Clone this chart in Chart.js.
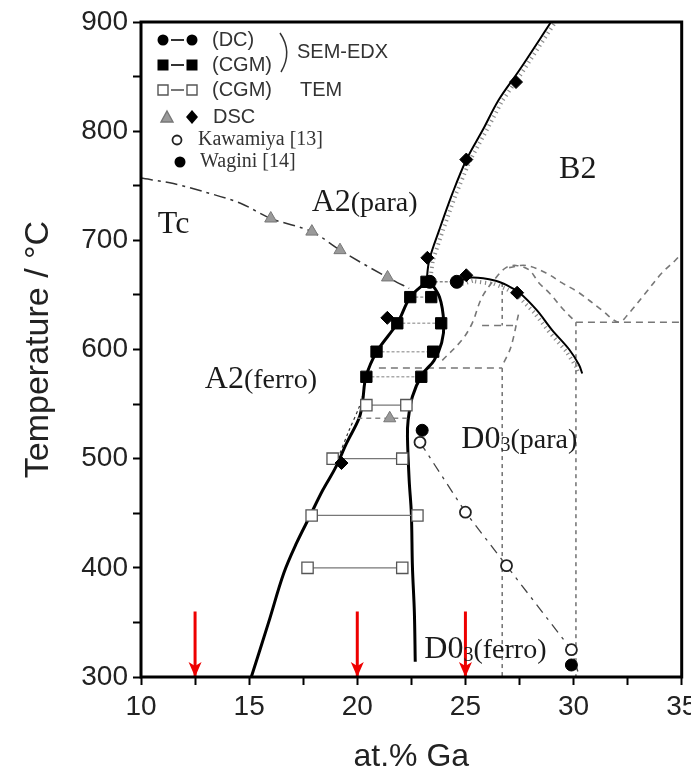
<!DOCTYPE html>
<html>
<head>
<meta charset="utf-8">
<script src="https://cdn.jsdelivr.net/npm/chart.js@4.4.1/dist/chart.umd.min.js"></script>
<style>
  html, body { margin: 0; padding: 0; background: #fff; }
  #chart { display: block; }
</style>
</head>
<body>
<canvas id="chart" width="691" height="784"></canvas>
<script>
// axis
const xMin = 10, xMax = 35;
const yMin = 300, yMax = 900;

// phase boundaries [at.% Ga, °C]
const tcCurve = [[10,757],[11.5,752],[13.0,744],[14.6,734],[16.0,720],[17.9,708],[19.2,691],[21.4,666],[22.4,656]];
const a2LeftBoundary = [[15.1,300],[15.9,350],[16.6,395],[17.2,423],[17.8,447],[18.4,471],[19.0,492],[19.5,514],[20.1,538],[20.25,553],[20.4,575],[20.9,598],[21.85,624],[22.45,648],[23.2,662]];
const d03Boundary = [[23.3,664],[23.8,648],[24.0,624],[23.9,606],[23.55,590],[23.0,577],[22.55,557],[22.35,535],[22.32,520],[22.4,480],[22.5,450],[22.55,401],[22.64,359],[22.68,314]];
const a2DashedBranch = [[19.1,500],[19.6,525],[20.1,548],[20.35,565]];
const b2Boundary = [[23.2,662],[23.33,682],[23.8,710],[24.4,743],[25.05,774],[25.8,801],[26.55,829],[27.5,856],[28.96,900]];
const b2Dome = [[24.6,662],[25.3,666],[26.4,663],[27.0,658],[27.5,652],[28.3,636],[29.0,618],[29.8,600],[30.25,586],[30.4,578]];
const kawamiyaLine = [[22.9,515],[25.0,451],[26.9,402],[29.9,325],[30.2,305]];

// metastable (gray dashed) lines
const metaArchA = [[23.93,590],[24.85,609],[25.31,624],[25.77,648],[26.42,666],[26.88,675],[27.34,677],[27.94,673],[28.4,661],[28.87,652],[29.56,636],[30.11,625]];
const metaArchB = [[27.02,675],[27.8,677],[28.73,670],[29.47,661],[30.25,652],[31.31,636],[32.09,625],[32.55,633],[33.34,652],[34.08,670],[34.72,682],[35,688]];
const metaCurveC = [[27.45,632],[27.1,602],[26.7,585]];
const metaH583 = [[21.0,583],[26.7,583]];
const metaH622 = [[25.77,622],[27.39,622]];
const metaH625 = [[30.11,625],[35,625]];
const metaV267a = [[26.7,661],[26.7,622]];
const metaV267b = [[26.7,583],[26.7,300]];
const metaV301 = [[30.11,625],[30.11,300]];

// measured points
const cgmTemps = [648, 624, 598, 575];
const cgmLeft = [22.45, 21.85, 20.89, 20.42];
const cgmRight = [23.42, 23.88, 23.51, 22.96];
const cgmExtraX = [23.2];
const cgmExtraT = [662];
const temTemps = [549, 500, 448, 400];
const temLeft = [20.42, 18.86, 17.89, 17.7];
const temRight = [22.27, 22.08, 22.78, 22.08];
const dcTemps = [662];
const dcLeft = [23.35];
const dcRight = [24.6];
const dscTriX = [16.0, 17.9, 19.2, 21.4, 21.5];
const dscTriT = [720, 708, 691, 666, 537];
const dscTieT = 537, dscTieLeft = 20.0, dscTieRight = 22.5;
const dscX = [19.27, 21.39, 23.24, 25.04, 27.39, 25.04, 27.34];
const dscT = [496, 629, 684, 668, 652, 774, 845];
const kawamiyaX = [22.9, 25.0, 26.9, 29.9];
const kawamiyaT = [515, 451, 402, 325];
const waginiX = [23.0, 29.9];
const waginiT = [526, 311];

// red arrows
const arrowX = [12.5, 20, 25];
const arrowTop = 360;
const arrowTip = 300;

const SANS = "'Liberation Sans', Arial, sans-serif";
const SERIF = "'Liberation Serif', 'Times New Roman', serif";

const pts = arr => arr.map(p => ({ x: p[0], y: p[1] }));
const zipPts = (xs, ys) => xs.map((x, i) => ({ x: x, y: ys[i] }));

function line(data, color, width, dash, extra) {
  return Object.assign({
    data: pts(data), showLine: true, pointRadius: 0, borderColor: color,
    borderWidth: width, borderDash: dash || [], tension: 0, fill: false
  }, extra || {});
}

function markers(data, style, radius, bg, border, bw) {
  return {
    data: data, showLine: false, pointStyle: style, pointRadius: radius,
    pointBackgroundColor: bg, pointBorderColor: border, pointBorderWidth: bw || 1
  };
}

const datasets = [];
// markers first, so they are drawn on top
datasets.push(markers(zipPts(dscX, dscT), 'rectRot', 6.5, '#000', '#000'));
datasets.push(markers(zipPts(kawamiyaX, kawamiyaT), 'circle', 5.5, '#fff', '#222', 1.8));
datasets.push(markers(zipPts(waginiX, waginiT), 'circle', 6, '#000', '#000'));
datasets.push(markers(zipPts(dcLeft, dcTemps).concat(zipPts(dcRight, dcTemps)), 'circle', 6.5, '#000', '#000'));
datasets.push(markers(zipPts(cgmLeft, cgmTemps).concat(zipPts(cgmRight, cgmTemps), zipPts(cgmExtraX, cgmExtraT)), 'rect', 8, '#000', '#000'));
datasets.push(markers(zipPts(temLeft, temTemps).concat(zipPts(temRight, temTemps)), 'rect', 8, '#fff', '#555', 1.3));
datasets.push(markers(zipPts(dscTriX, dscTriT), 'triangle', 7, '#9a9a9a', '#777', 1));

// tie lines
cgmTemps.forEach((t, i) => datasets.push(line([[cgmLeft[i], t], [cgmRight[i], t]], '#aaa', 1.6, [3, 2])));
temTemps.forEach((t, i) => datasets.push(line([[temLeft[i], t], [temRight[i], t]], '#777', 1.2)));
dcTemps.forEach((t, i) => datasets.push(line([[dcLeft[i], t], [dcRight[i], t]], '#888', 1.5, [3, 2])));
datasets.push(line([[dscTieLeft, dscTieT], [dscTieRight, dscTieT]], '#888', 1.5, [5, 4]));

// red arrows
arrowX.forEach(x => datasets.push(line([[x, arrowTop], [x, arrowTip]], '#ee0000', 3, [], { arrow: true })));

// boundaries
datasets.push(line(a2LeftBoundary, '#000', 3, [], { tension: 0.35 }));
datasets.push(line(d03Boundary, '#000', 3, [], { tension: 0.35 }));
datasets.push(line(b2Boundary, '#000', 2, [], { tension: 0.35, hatch: 1 }));
datasets.push(line(b2Dome, '#000', 2, [], { tension: 0.35, hatch: 1 }));
datasets.push(line(a2DashedBranch, '#333', 1.2, [3, 3], { tension: 0.3 }));
datasets.push(line(tcCurve, '#333', 1.5, [12, 5, 3, 5], { tension: 0.3 }));
datasets.push(line(kawamiyaLine, '#444', 1.3, [10, 6, 3, 6]));

// metastable lines
datasets.push(line(metaArchA, '#777', 1.6, [6, 5], { tension: 0.35 }));
datasets.push(line(metaArchB, '#777', 1.6, [6, 5], { tension: 0.35 }));
datasets.push(line(metaCurveC, '#777', 1.6, [6, 5], { tension: 0.3 }));
[metaH583, metaH622, metaH625].forEach(d => datasets.push(line(d, '#777', 1.6, [7, 5])));
[metaV267a, metaV267b, metaV301].forEach(d => datasets.push(line(d, '#666', 1.4, [4, 4])));

const hatchPlugin = {
  id: 'hatch',
  beforeDatasetsDraw(chart) {
    const ctx = chart.ctx;
    const area = chart.chartArea;
    chart.data.datasets.forEach((ds, i) => {
      if (!ds.hatch) return;
      const p = chart.getDatasetMeta(i).data;
      ctx.save();
      ctx.beginPath();
      ctx.rect(area.left, area.top, area.right - area.left, area.bottom - area.top);
      ctx.clip();
      ctx.strokeStyle = '#8a8a8a';
      ctx.lineWidth = 1.2;
      let carry = 0;
      for (let k = 0; k < p.length - 1; k++) {
        const dx = p[k + 1].x - p[k].x, dy = p[k + 1].y - p[k].y;
        const len = Math.hypot(dx, dy);
        const nx = -dy / len * ds.hatch, ny = dx / len * ds.hatch;
        let s = carry;
        for (; s < len; s += 5) {
          const px = p[k].x + dx * s / len, py = p[k].y + dy * s / len;
          ctx.beginPath();
          ctx.moveTo(px + nx * 1.5, py + ny * 1.5);
          ctx.lineTo(px + nx * 5.5, py + ny * 5.5);
          ctx.stroke();
        }
        carry = s - len;
      }
      ctx.restore();
    });
  }
};

const arrowPlugin = {
  id: 'arrows',
  afterDatasetsDraw(chart) {
    const ctx = chart.ctx;
    chart.data.datasets.forEach((ds, i) => {
      if (!ds.arrow) return;
      const p = chart.getDatasetMeta(i).data;
      const tip = p[p.length - 1];
      ctx.save();
      ctx.fillStyle = '#ee0000';
      ctx.beginPath();
      ctx.moveTo(tip.x, tip.y);
      ctx.lineTo(tip.x - 6.5, tip.y - 15);
      ctx.lineTo(tip.x, tip.y - 11);
      ctx.lineTo(tip.x + 6.5, tip.y - 15);
      ctx.closePath();
      ctx.fill();
      ctx.restore();
    });
  }
};

// region labels: [left x, baseline T, parts]
const regionLabels = [
  [10.78, 707, [['Tc', 32]]],
  [17.89, 727, [['A2', 32], ['(para)', 28]]],
  [12.95, 565, [['A2', 32], ['(ferro)', 28]]],
  [29.33, 757, [['B2', 32]]],
  [24.81, 510, [['D0', 32], ['3', 20, 3], ['(para)', 28]]],
  [23.1, 317, [['D0', 32], ['3', 20, 3], ['(ferro)', 28]]]
];

function drawMark(ctx, kind, x, y) {
  ctx.save();
  ctx.lineWidth = 1.4;
  ctx.beginPath();
  if (kind === 'dot') {
    ctx.fillStyle = '#000';
    ctx.arc(x, y, 5.5, 0, Math.PI * 2);
    ctx.fill();
  } else if (kind === 'ring') {
    ctx.strokeStyle = '#222';
    ctx.lineWidth = 1.8;
    ctx.fillStyle = '#fff';
    ctx.arc(x, y, 4.5, 0, Math.PI * 2);
    ctx.fill(); ctx.stroke();
  } else if (kind === 'sq') {
    ctx.fillStyle = '#000';
    ctx.fillRect(x - 5.5, y - 5.5, 11, 11);
  } else if (kind === 'osq') {
    ctx.strokeStyle = '#555';
    ctx.fillStyle = '#fff';
    ctx.rect(x - 5, y - 5, 10, 10);
    ctx.fill(); ctx.stroke();
  } else if (kind === 'tri') {
    ctx.fillStyle = '#9a9a9a';
    ctx.strokeStyle = '#777';
    ctx.moveTo(x, y - 6); ctx.lineTo(x + 6, y + 5); ctx.lineTo(x - 6, y + 5); ctx.closePath();
    ctx.fill(); ctx.stroke();
  } else if (kind === 'dia') {
    ctx.fillStyle = '#000';
    ctx.moveTo(x, y - 7); ctx.lineTo(x + 6, y); ctx.lineTo(x, y + 7); ctx.lineTo(x - 6, y); ctx.closePath();
    ctx.fill();
  }
  ctx.restore();
}

const annotatePlugin = {
  id: 'annotate',
  afterDatasetsDraw(chart) {
    const ctx = chart.ctx;
    const xs = chart.scales.x, ys = chart.scales.y;
    const a = chart.chartArea;

    // region labels
    ctx.save();
    ctx.fillStyle = '#1a1a1a';
    ctx.textBaseline = 'alphabetic';
    ctx.textAlign = 'left';
    regionLabels.forEach(([lx, ly, parts]) => {
      let px = xs.getPixelForValue(lx);
      const py = ys.getPixelForValue(ly);
      parts.forEach(([txt, size, dy]) => {
        ctx.font = size + 'px ' + SERIF;
        ctx.fillText(txt, px, py + (dy || 0));
        px += ctx.measureText(txt).width;
      });
    });
    ctx.restore();

    // legend block
    const L = a.left, T = a.top;
    ctx.save();
    ctx.strokeStyle = '#000';
    ctx.lineWidth = 2;
    const pair = (kind, y, dashColor) => {
      drawMark(ctx, kind, L + 22, T + y);
      drawMark(ctx, kind, L + 51, T + y);
      ctx.strokeStyle = dashColor;
      ctx.beginPath(); ctx.moveTo(L + 30, T + y); ctx.lineTo(L + 43, T + y); ctx.stroke();
    };
    pair('dot', 18, '#333');
    pair('sq', 43, '#333');
    pair('osq', 68, '#777');
    drawMark(ctx, 'tri', L + 26, T + 95);
    drawMark(ctx, 'dia', L + 51, T + 95);
    drawMark(ctx, 'ring', L + 36, T + 118);
    drawMark(ctx, 'dot', L + 39, T + 140);

    ctx.fillStyle = '#333';
    ctx.textBaseline = 'middle';
    ctx.font = '20px ' + SANS;
    ctx.fillText('(DC)', L + 71, T + 18);
    ctx.fillText('(CGM)', L + 71, T + 43);
    ctx.fillText('(CGM)', L + 71, T + 68);
    ctx.fillText('SEM-EDX', L + 156, T + 30);
    ctx.fillText('TEM', L + 159, T + 68);
    ctx.fillText('DSC', L + 72, T + 95);
    ctx.font = '20px ' + SERIF;
    ctx.fillText('Kawamiya [13]', L + 57, T + 118);
    ctx.fillText('Wagini [14]', L + 59, T + 140);

    ctx.strokeStyle = '#333';
    ctx.lineWidth = 1.5;
    ctx.beginPath();
    ctx.moveTo(L + 139, T + 11);
    ctx.quadraticCurveTo(L + 152, T + 30, L + 140, T + 50);
    ctx.stroke();
    ctx.restore();
  },
  afterDraw(chart) {
    const ctx = chart.ctx;
    const a = chart.chartArea;
    ctx.save();
    ctx.strokeStyle = '#000';
    ctx.lineWidth = 3;
    ctx.strokeRect(a.left, a.top, a.right - a.left, a.bottom - a.top);
    ctx.restore();
  }
};

new Chart(document.getElementById('chart'), {
  type: 'scatter',
  data: { datasets: datasets },
  plugins: [hatchPlugin, arrowPlugin, annotatePlugin],
  options: {
    responsive: false,
    animation: false,
    events: [],
    layout: { padding: { top: 22, right: 7, left: 0, bottom: 0 } },
    plugins: { legend: { display: false }, tooltip: { enabled: false } },
    scales: {
      x: {
        type: 'linear', min: xMin, max: xMax,
        afterFit: s => { s.height = 107; s.paddingLeft = 0; s.paddingRight = 0; },
        border: { display: false },
        grid: { drawOnChartArea: false, tickLength: 8, tickColor: '#000', tickWidth: 2 },
        ticks: {
          stepSize: 2.5, autoSkip: false, maxRotation: 0, padding: 5, color: '#222',
          font: { family: SANS, size: 28 },
          callback: v => (v % 5 === 0 ? v : '')
        },
        title: { display: true, text: 'at.% Ga', color: '#222', font: { family: SANS, size: 32 }, padding: { bottom: 8 } }
      },
      y: {
        type: 'linear', min: yMin, max: yMax,
        afterFit: s => { s.width = 141; s.paddingTop = 0; s.paddingBottom = 0; },
        border: { display: false },
        grid: { drawOnChartArea: false, tickLength: 8, tickColor: '#000', tickWidth: 2 },
        ticks: {
          stepSize: 50, autoSkip: false, padding: 5, color: '#222',
          font: { family: SANS, size: 28 },
          callback: v => (v % 100 === 0 ? v : '')
        },
        title: { display: true, text: 'Temperature / °C', color: '#222', font: { family: SANS, size: 34 }, padding: { top: 18 } }
      }
    }
  }
});
</script>
</body>
</html>
